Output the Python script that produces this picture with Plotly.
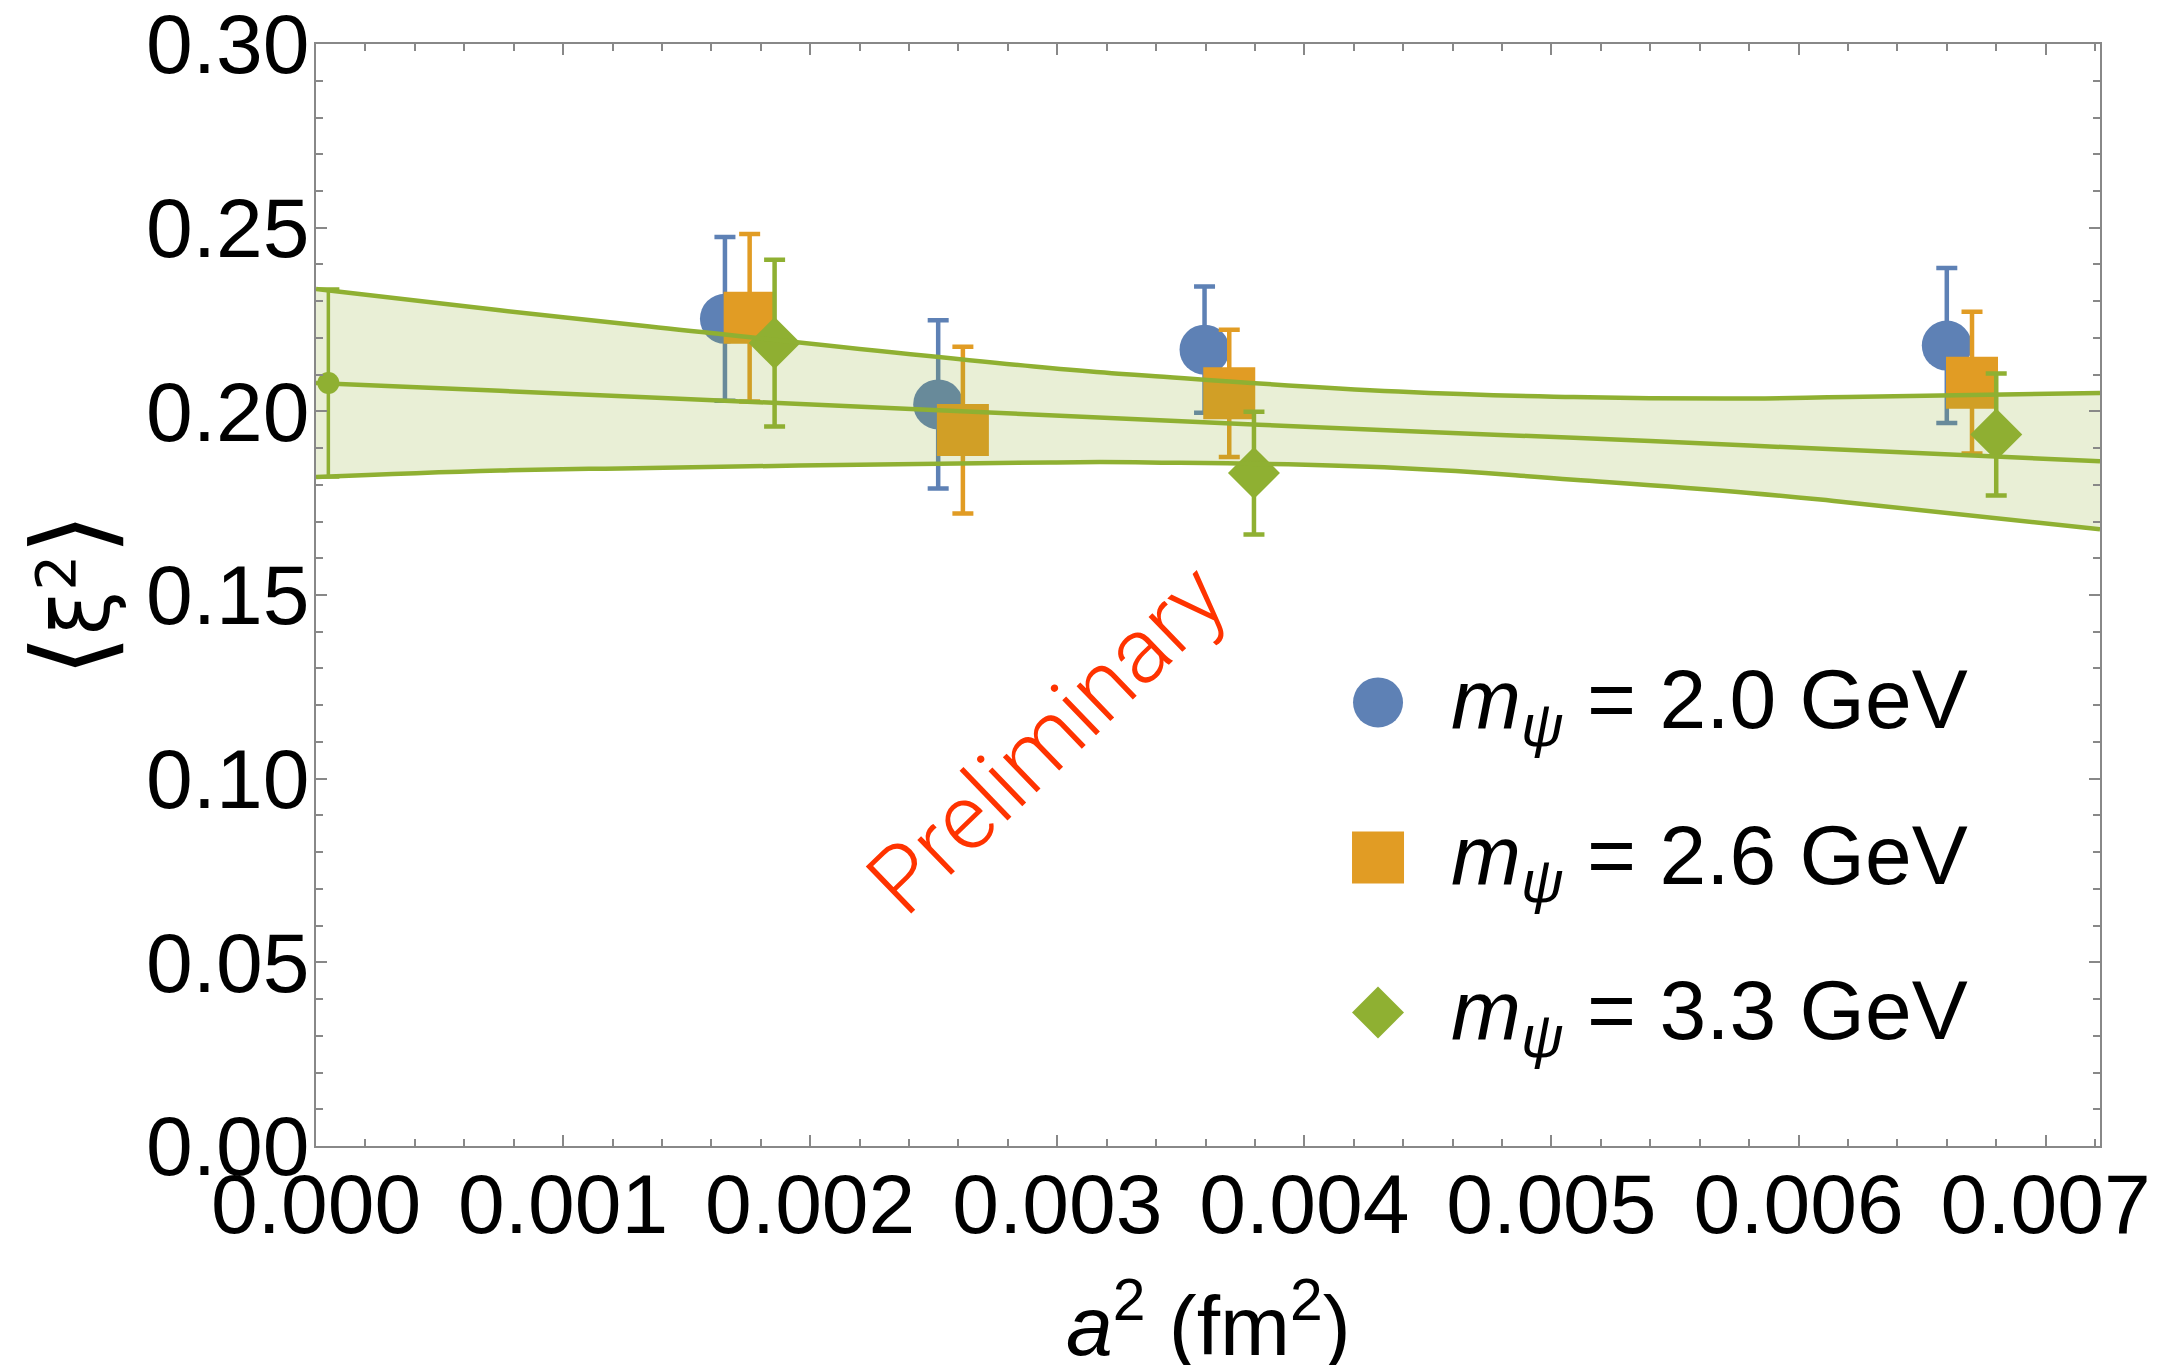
import plotly.graph_objects as go

# ---------------- data ----------------
series_names = ["<i>m</i><sub><i>ψ</i></sub> = 2.0 GeV",
                "<i>m</i><sub><i>ψ</i></sub> = 2.6 GeV",
                "<i>m</i><sub><i>ψ</i></sub> = 3.3 GeV"]

a2_m20 = [0.001655, 0.002518, 0.003596, 0.006600]
xi2_m20 = [0.2252, 0.2019, 0.2168, 0.2179]
err_m20 = [0.0223, 0.0229, 0.0172, 0.0211]

a2_m26 = [0.001755, 0.002618, 0.003696, 0.006702]
xi2_m26 = [0.2255, 0.1949, 0.2049, 0.2078]
err_m26 = [0.0228, 0.0227, 0.0173, 0.0193]

a2_m33 = [0.001856, 0.003796, 0.006800]
xi2_m33 = [0.2186, 0.1832, 0.1937]
err_m33 = [0.0227, 0.0167, 0.0166]

# continuum extrapolated value
a2_cont = [0.00005]
xi2_cont = [0.2077]
err_cont = [0.0256]

# fit band (read at sample positions)
band_x_upper = [0.0, 0.000744, 0.00135, 0.00297, 0.00337, 0.00438, 0.00509, 0.0058, 0.0062, 0.00722]
band_upper = [0.2333, 0.2275, 0.2231, 0.2118, 0.2097, 0.2054, 0.2039, 0.2035, 0.2039, 0.2050]
band_x_lower = [0.0, 0.000744, 0.00135, 0.00297, 0.00337, 0.00438, 0.00509, 0.0058, 0.0062, 0.00722]
band_lower = [0.1821, 0.1839, 0.1846, 0.1861, 0.1861, 0.1846, 0.1814, 0.1778, 0.1752, 0.1679]
band_x_center = [0.0, 0.000744, 0.00252, 0.00438, 0.00509, 0.0058, 0.00722]
band_center = [0.2077, 0.2056, 0.2003, 0.1947, 0.1928, 0.1907, 0.1864]

x_tickvals = [0.000, 0.001, 0.002, 0.003, 0.004, 0.005, 0.006, 0.007]
x_ticktext = ["0.000", "0.001", "0.002", "0.003", "0.004", "0.005", "0.006", "0.007"]
y_tickvals = [0.00, 0.05, 0.10, 0.15, 0.20, 0.25, 0.30]
y_ticktext = ["0.00", "0.05", "0.10", "0.15", "0.20", "0.25", "0.30"]

# ---------------- styling ----------------
BLUE = "#5E81B5"
ORANGE = "#E19C24"
GREEN = "#8FB032"
FONT = "Liberation Sans, Arial, sans-serif"
FS = 84
AXC = "#888888"

fig = go.Figure()

def add_series(x, y, e, color, symbol, size):
    fig.add_trace(go.Scatter(
        x=x, y=y, mode="markers",
        marker=dict(color=color, symbol=symbol, size=size, line=dict(width=0)),
        error_y=dict(type="data", array=e, visible=True, color=color,
                     thickness=4.5, width=10.5),
        showlegend=False, hoverinfo="skip"))

add_series(a2_m20, xi2_m20, err_m20, BLUE, "circle", 50)
add_series(a2_m26, xi2_m26, err_m26, ORANGE, "square", 52)
add_series(a2_m33, xi2_m33, err_m33, GREEN, "diamond", 40)

# band on an overlay axis so it is drawn above the points
fig.add_trace(go.Scatter(x=band_x_lower, y=band_lower, mode="lines",
                         line=dict(color=GREEN, width=4.5, shape="spline", smoothing=1.3),
                         xaxis="x3", yaxis="y3", showlegend=False, hoverinfo="skip"))
fig.add_trace(go.Scatter(x=band_x_upper, y=band_upper, mode="lines",
                         line=dict(color=GREEN, width=4.5, shape="spline", smoothing=1.3),
                         fill="tonexty", fillcolor="rgba(143,176,50,0.2)",
                         xaxis="x3", yaxis="y3", showlegend=False, hoverinfo="skip"))
fig.add_trace(go.Scatter(x=band_x_center, y=band_center, mode="lines",
                         line=dict(color=GREEN, width=4.5, shape="spline", smoothing=1.3),
                         xaxis="x3", yaxis="y3", showlegend=False, hoverinfo="skip"))
fig.add_trace(go.Scatter(x=a2_cont, y=xi2_cont, mode="markers",
                         marker=dict(color=GREEN, size=22),
                         error_y=dict(type="data", array=err_cont, visible=True, color=GREEN,
                                      thickness=3.5, width=11),
                         xaxis="x3", yaxis="y3", showlegend=False, hoverinfo="skip"))

# legend markers on an overlay paper-like axis
leg_x = [0.5953, 0.5953, 0.5953]
leg_y = [0.4025, 0.2618, 0.1212]
for lx, ly, c, s, sz in zip(leg_x, leg_y, [BLUE, ORANGE, GREEN],
                            ["circle", "square", "diamond"], [50, 52, 40]):
    fig.add_trace(go.Scatter(x=[lx], y=[ly], mode="markers",
                             marker=dict(color=c, symbol=s, size=sz, line=dict(width=0)),
                             xaxis="x2", yaxis="y2", showlegend=False, hoverinfo="skip"))

XR = [0, 0.00722]
YR = [0, 0.30001]
axis_common = dict(showgrid=False, zeroline=False, showline=True, linecolor=AXC,
                   linewidth=1.5, mirror="ticks", ticks="inside", tickcolor=AXC,
                   tickwidth=1.5, ticklen=11, ticklabeloverflow="allow", automargin=False,
                   tickfont=dict(family=FONT, size=FS, color="black"))

fig.update_layout(
    template="none",
    width=2162, height=1365,
    margin=dict(l=316, r=62, t=44, b=219, autoexpand=False),
    paper_bgcolor="white", plot_bgcolor="white",
    showlegend=False,
    xaxis=dict(range=XR, tickvals=x_tickvals, ticktext=x_ticktext,
               minor=dict(ticks="inside", dtick=0.0002, ticklen=7, tickcolor=AXC, tickwidth=1.5),
               ticklabelstandoff=-16, **axis_common),
    yaxis=dict(range=YR, tickvals=y_tickvals, ticktext=y_ticktext,
               minor=dict(ticks="inside", dtick=0.01, ticklen=7, tickcolor=AXC, tickwidth=1.5),
               ticklabelstandoff=-12, **axis_common),
    xaxis3=dict(range=XR, overlaying="x", visible=False, fixedrange=True),
    yaxis3=dict(range=YR, overlaying="y", visible=False, fixedrange=True),
    xaxis2=dict(range=[0, 1], overlaying="x", visible=False, fixedrange=True),
    yaxis2=dict(range=[0, 1], overlaying="y", visible=False, fixedrange=True),
)

ann_font = dict(family=FONT, size=FS, color="black")
leg_text_y = [0.400, 0.259, 0.118]
for name, ty in zip(series_names, leg_text_y):
    fig.add_annotation(text=name, xref="paper", yref="paper", x=0.6351, y=ty,
                       xanchor="left", yanchor="middle", showarrow=False, font=ann_font)

fig.add_annotation(text="<i>a</i><sup>2</sup> (fm<sup>2</sup>)", xref="paper", yref="paper",
                   x=0.5, y=-0.158, xanchor="center", yanchor="middle",
                   showarrow=False, font=ann_font)
fig.add_annotation(text="<span style='font-size:108px;font-weight:200'>⟨</span>ξ<sup>2</sup><span style='font-size:108px;font-weight:200'>⟩</span>",
                   xref="paper", yref="paper",
                   x=-0.137, y=0.4995, xanchor="center", yanchor="middle", textangle=-90,
                   showarrow=False, font=dict(family="DejaVu Sans, " + FONT, size=80, color="black"))
fig.add_annotation(text="Preliminary", xref="paper", yref="paper",
                   x=0.4092, y=0.3689, xanchor="center", yanchor="middle", textangle=-44,
                   showarrow=False,
                   font=dict(family="Roboto, Liberation Sans, sans-serif", size=92,
                             color="#FF3300", weight=300))

fig.write_html("out.html")
